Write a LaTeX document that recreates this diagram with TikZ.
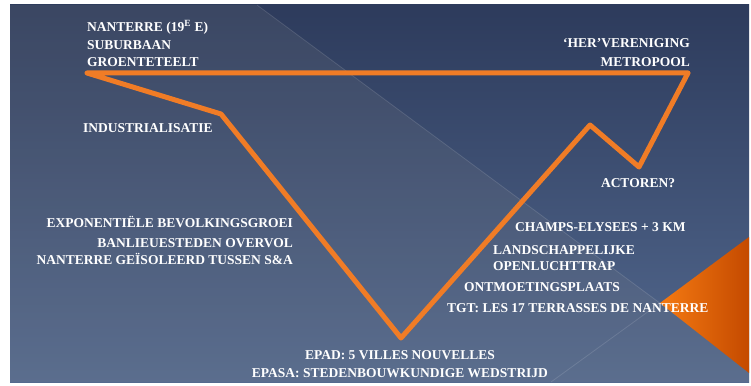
\documentclass[tikz,border=0pt]{standalone}
\usepackage{fontspec}
\setmainfont{Liberation Serif}
\definecolor{bgtop}{HTML}{2D3B5C}
\definecolor{bgmid}{HTML}{34466C}
\definecolor{bgbot}{HTML}{53698F}
\definecolor{lightveil}{HTML}{8A8A8A}
\definecolor{orline}{HTML}{F07C26}
\definecolor{orL}{HTML}{F57A12}
\definecolor{orR}{HTML}{C44A00}
\tikzset{
  lbl/.style={text=white, inner sep=0pt, font=\fontsize{13.5}{16}\selectfont\bfseries},
  lblw/.style={lbl, anchor=base west},
  lble/.style={lbl, anchor=base east},
  lblc/.style={lbl, anchor=base},
  curve/.style={draw=orline, line width=5pt, line join=round, line cap=round}
}
\begin{document}
\begin{tikzpicture}[x=1pt,y=-1pt]
\useasboundingbox (0,0) rectangle (751,385);
\fill[white] (0,0) rectangle (751,385);
% slide background
\shade[top color=bgtop, middle color=bgmid, bottom color=bgbot] (10,5) rectangle (749,382);
\fill[lightveil, opacity=0.15] (10,5) -- (257,5) -- (749,369) -- (749,382) -- (10,382) -- cycle;
\draw[white, opacity=0.12, line width=0.8pt] (257,5) -- (749,369);
\draw[white, opacity=0.12, line width=0.8pt] (551,382) -- (660,303);
% orange triangle
\shade[left color=orL, right color=orR] (660,303) -- (749,237) -- (749,373) -- cycle;
% curve points
\coordinate (pL) at (87,73);
\coordinate (pI) at (221,114);
\coordinate (pB) at (401,338);
\coordinate (pP) at (590,125);
\coordinate (pV) at (639,167);
\coordinate (pR) at (688,73);
\draw[curve] (pR) -- (pL) -- (pI) -- (pB) -- (pP) -- (pV) -- (pR);
% labels
\node[lblw] (t1) at (87,31.5) {NANTERRE (19\textsuperscript{E} E)};
\node[lblw] (t2) at (87,49.5) {SUBURBAAN};
\node[lblw] (t3) at (87,66.5) {GROENTETEELT};
\node[lblw] (t4) at (83,132.5) {INDUSTRIALISATIE};
\node[lble] (t5) at (690,47.5) {‘HER’VERENIGING};
\node[lble] (t6) at (690,66.5) {METROPOOL};
\node[lblc] (t7) at (638,187.5) {ACTOREN?};
\node[lble] (t8) at (293,227.5) {EXPONENTIËLE BEVOLKINGSGROEI};
\node[lble] (t9) at (293,247.5) {BANLIEUESTEDEN OVERVOL};
\node[lble] (t10) at (293,264.5) {NANTERRE GEÏSOLEERD TUSSEN S\&A};
\node[lblw] (t11) at (515,231.5) {CHAMPS-ELYSEES + 3 KM};
\node[lblw] (t12) at (493,254.5) {LANDSCHAPPELIJKE};
\node[lblw] (t13) at (493,270.5) {OPENLUCHTTRAP};
\node[lblw] (t14) at (464,291.5) {ONTMOETINGSPLAATS};
\node[lblw] (t15) at (447,312.5) {TGT: LES 17 TERRASSES DE NANTERRE};
\node[lblc] (t16) at (400,359.5) {EPAD: 5 VILLES NOUVELLES};
\node[lblc] (t17) at (400,377.5) {EPASA: STEDENBOUWKUNDIGE WEDSTRIJD};
\end{tikzpicture}
\end{document}
